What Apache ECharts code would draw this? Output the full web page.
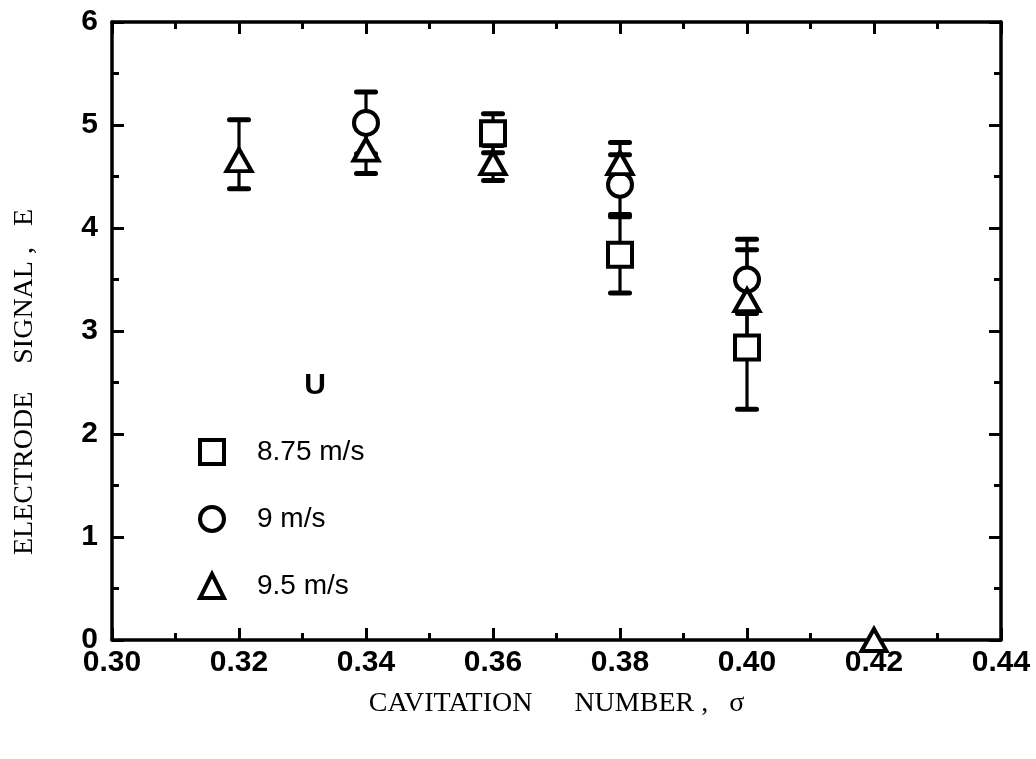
<!DOCTYPE html>
<html>
<head>
<meta charset="utf-8">
<title>Electrode signal vs cavitation number</title>
<script src="https://cdn.jsdelivr.net/npm/echarts@6/dist/echarts.min.js"></script>
<style>
  html, body { margin: 0; padding: 0; background: #fff; }
  #chart { width: 1036px; height: 759px; }
</style>
</head>
<body>
<div id="chart"></div>
<script>
// Cavitation number (sigma) for each measured point, per flow speed U
const sigma875 = [0.36, 0.38, 0.40];
const sigma9   = [0.34, 0.38, 0.40];
const sigma95  = [0.32, 0.34, 0.36, 0.38, 0.40, 0.42];

// Mean electrode signal E
const mean875 = [4.92, 3.74, 2.84];
const mean9   = [5.02, 4.42, 3.50];
const mean95  = [4.66, 4.76, 4.63, 4.63, 3.30, 0];

// Error bar limits (low / high); null where no bar is drawn
const low875  = [4.73, 3.37, 2.24];
const high875 = [5.11, 4.11, 3.44];
const low9    = [4.72, 4.13, 3.17];
const high9   = [5.32, 4.71, 3.89];
const low95   = [4.38, 4.53, 4.46, 4.43, 2.81, null];
const high95  = [5.05, 4.99, 4.80, 4.83, 3.79, null];

const seriesNames = ['8.75 m/s', '9 m/s', '9.5 m/s'];
const legendTitle = 'U';
const xTitle = 'CAVITATION      NUMBER ,   \u03c3';
const yTitle = 'ELECTRODE    SIGNAL ,   E';

const zip = (xs, ys) => xs.map((x, i) => [x, ys[i]]);
const zipErr = (xs, lo, hi) => xs.map((x, i) => [x, lo[i], hi[i]]).filter(d => d[1] !== null);

const sansFont = '"Liberation Sans", Arial, Helvetica, sans-serif';
const serifFont = '"Liberation Serif", "DejaVu Serif", "Times New Roman", serif';

// Error bar: vertical stem with a short horizontal cap at each end
function renderErrorBar(params, api) {
  const x = api.value(0);
  const lo = api.coord([x, api.value(1)]);
  const hi = api.coord([x, api.value(2)]);
  const half = 9.5;
  const stem = { stroke: '#000', lineWidth: 3.2 };
  const cap = { stroke: '#000', lineWidth: 5, lineCap: 'round' };
  return {
    type: 'group',
    children: [
      { type: 'line', shape: { x1: lo[0], y1: lo[1], x2: hi[0], y2: hi[1] }, style: stem },
      { type: 'line', shape: { x1: lo[0] - half, y1: lo[1], x2: lo[0] + half, y2: lo[1] }, style: cap },
      { type: 'line', shape: { x1: hi[0] - half, y1: hi[1], x2: hi[0] + half, y2: hi[1] }, style: cap }
    ]
  };
}

const markerStyle = { color: '#fff', borderColor: '#000', borderWidth: 4, opacity: 1 };

function errorSeries(data) {
  return {
    type: 'custom',
    renderItem: renderErrorBar,
    data: data,
    z: 3,
    silent: true,
    encode: { x: 0, y: [1, 2] }
  };
}

const axisLine = { show: true, onZero: false, lineStyle: { color: '#000', width: 3.5 } };
const majorTick = { show: true, inside: true, length: 12, lineStyle: { color: '#000', width: 3 } };
const minorTick = { show: true, splitNumber: 2, length: 7, lineStyle: { color: '#000', width: 3 } };

const chart = echarts.init(document.getElementById('chart'), null, { renderer: 'canvas' });

chart.setOption({
  animation: false,
  backgroundColor: '#fff',
  grid: { left: 112, right: 35, top: 22, bottom: 119, containLabel: false },
  legend: {
    orient: 'vertical',
    left: 193,
    top: 433,
    itemWidth: 24,
    itemHeight: 24,
    itemGap: 39,
    selectedMode: false,
    textStyle: { fontFamily: sansFont, fontSize: 28, color: '#000', padding: [0, 0, 0, 28] },
    data: [
      { name: seriesNames[0], icon: 'rect', itemStyle: markerStyle },
      { name: seriesNames[1], icon: 'circle', itemStyle: markerStyle },
      { name: seriesNames[2], icon: 'triangle', itemStyle: markerStyle }
    ]
  },
  graphic: [
    {
      type: 'text',
      x: 315,
      y: 386,
      style: {
        text: legendTitle, font: 'bold 30px ' + sansFont, fill: '#000',
        textAlign: 'center', textVerticalAlign: 'middle'
      }
    },
    {
      type: 'text',
      x: 25,
      y: 382,
      rotation: Math.PI / 2,
      style: {
        text: yTitle, font: '28px ' + serifFont, fill: '#000',
        textAlign: 'center', textVerticalAlign: 'middle'
      }
    }
  ],
  xAxis: [
    {
      type: 'value',
      min: 0.30, max: 0.44, interval: 0.02,
      position: 'bottom',
      axisLine: axisLine,
      axisTick: majorTick,
      minorTick: minorTick,
      splitLine: { show: false },
      axisLabel: {
        margin: 8,
        color: '#000',
        fontFamily: sansFont,
        fontWeight: 'bold',
        fontSize: 30,
        formatter: v => v.toFixed(2)
      },
      name: xTitle,
      nameLocation: 'middle',
      nameGap: 50,
      nameTextStyle: { fontFamily: serifFont, fontSize: 28, color: '#000' }
    },
    {
      type: 'value',
      min: 0.30, max: 0.44, interval: 0.02,
      position: 'top',
      axisLine: axisLine,
      axisTick: majorTick,
      minorTick: minorTick,
      splitLine: { show: false },
      axisLabel: { show: false }
    }
  ],
  yAxis: [
    {
      type: 'value',
      min: 0, max: 6, interval: 1,
      position: 'left',
      axisLine: axisLine,
      axisTick: majorTick,
      minorTick: minorTick,
      splitLine: { show: false },
      axisLabel: {
        margin: 14,
        color: '#000',
        fontFamily: sansFont,
        fontWeight: 'bold',
        fontSize: 30
      }
    },
    {
      type: 'value',
      min: 0, max: 6, interval: 1,
      position: 'right',
      axisLine: axisLine,
      axisTick: majorTick,
      minorTick: minorTick,
      splitLine: { show: false },
      axisLabel: { show: false }
    }
  ],
  series: [
    errorSeries(zipErr(sigma875, low875, high875)),
    errorSeries(zipErr(sigma9, low9, high9)),
    errorSeries(zipErr(sigma95, low95, high95)),
    {
      name: seriesNames[0], type: 'scatter', symbol: 'rect', symbolSize: 24,
      itemStyle: markerStyle, z: 4, clip: false,
      data: zip(sigma875, mean875)
    },
    {
      name: seriesNames[1], type: 'scatter', symbol: 'circle', symbolSize: 24,
      itemStyle: markerStyle, z: 5, clip: false,
      data: zip(sigma9, mean9)
    },
    {
      name: seriesNames[2], type: 'scatter', symbol: 'triangle', symbolSize: [25, 22],
      itemStyle: markerStyle, z: 6, clip: false,
      data: zip(sigma95, mean95)
    }
  ]
});
</script>
</body>
</html>
